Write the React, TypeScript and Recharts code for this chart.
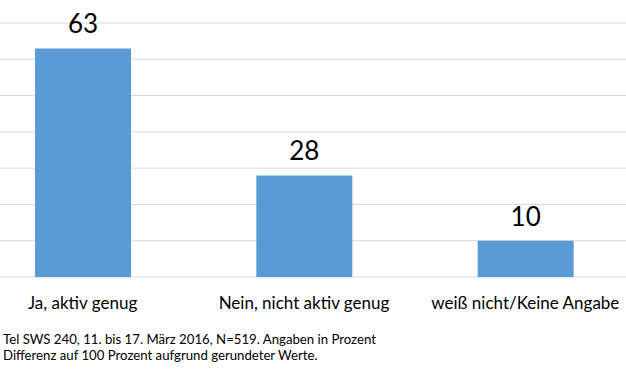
import { BarChart, Bar, XAxis, YAxis, CartesianGrid, LabelList } from 'recharts';

const categories = ['Ja, aktiv genug', 'Nein, nicht aktiv genug', 'weiß nicht/Keine Angabe'];
const values = [63, 28, 10];
const yTicks = [0, 10, 20, 30, 40, 50, 60, 70];
const footnotes = [
  'Tel SWS 240, 11. bis 17. März 2016, N=519. Angaben in Prozent',
  'Differenz auf 100 Prozent aufgrund gerundeter Werte.',
];

const FONT = 'Lato, "Noto Sans", sans-serif';

export default function App() {
  const data = categories.map((name, i) => ({ name, value: values[i] }));

  return (
    <div
      style={{
        position: 'absolute', left: 0, top: 0, width: 626, height: 378,
        background: '#fff', fontFamily: FONT, overflow: 'hidden',
      }}
    >
      <BarChart
        width={626}
        height={320}
        data={data}
        margin={{ top: 23, right: -10, left: -28, bottom: 0 }}
      >
        <CartesianGrid vertical={false} stroke="#d9d9d9" strokeWidth={1} />
        <XAxis
          dataKey="name"
          axisLine={false}
          tickLine={false}
          interval={0}
          height={43}
          tickMargin={14}
          tick={{ fill: '#000', fontSize: 17, fontFamily: FONT }}
        />
        <YAxis hide domain={[0, 70]} ticks={yTicks} />
        <Bar dataKey="value" fill="#5b9bd5" barSize={96} isAnimationActive={false}>
          <LabelList dataKey="value" position="top" offset={15} fill="#000" fontSize={26} fontFamily={FONT} />
        </Bar>
      </BarChart>
      <div style={{ position: 'absolute', left: 3, top: 331, fontSize: 13.2, lineHeight: '16px', color: '#000' }}>
        {footnotes.map((t, i) => (
          <div key={i}>{t}</div>
        ))}
      </div>
    </div>
  );
}
